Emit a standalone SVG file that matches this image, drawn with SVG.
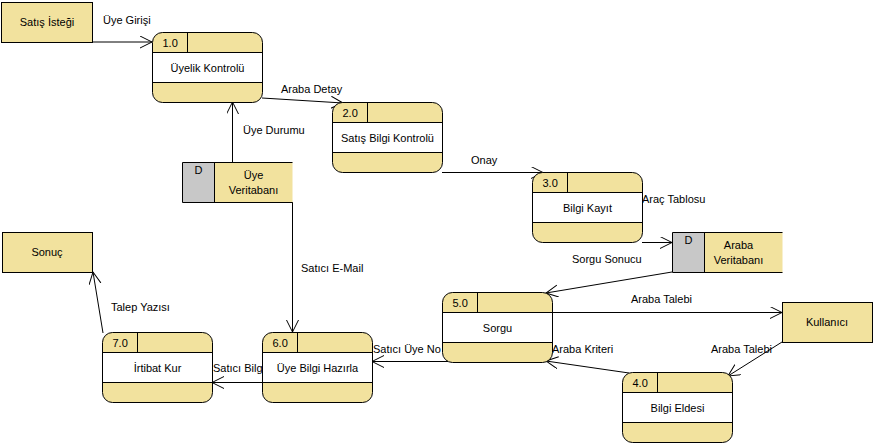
<svg xmlns="http://www.w3.org/2000/svg" width="876" height="446" viewBox="0 0 876 446">
<defs>
<style>
text{font-family:"Liberation Sans",Arial,sans-serif;font-size:11px;fill:#000}
.c{text-anchor:middle}
.box{fill:#f2e29e;stroke:#000;stroke-width:1}
.body{fill:#fff;stroke:#000;stroke-width:1}
.ln{stroke:#000;stroke-width:1;fill:none}
.dgray{fill:#c8c8c8;stroke:none}
.skh{fill:#f2e29e;stroke:none}
.edge{stroke:#000;stroke-width:1;fill:none;marker-end:url(#arr)}
</style>
<marker id="arr" markerUnits="userSpaceOnUse" markerWidth="14" markerHeight="14" refX="12" refY="6" orient="auto">
<path d="M0,0 L12,6 L0,12" fill="none" stroke="#000" stroke-width="1"/>
</marker>
</defs>
<rect width="876" height="446" fill="#fff"/>

<g id="connectors">
<line class="edge" x1="93" y1="42" x2="152" y2="42"/>
<line class="edge" x1="262" y1="98" x2="343" y2="103"/>
<line class="edge" x1="232.5" y1="162" x2="232.5" y2="102"/>
<line class="edge" x1="292.5" y1="202" x2="292.5" y2="332"/>
<line class="edge" x1="442" y1="172.5" x2="543" y2="172.5"/>
<line class="edge" x1="642" y1="242.5" x2="672" y2="242.5"/>
<line class="edge" x1="672" y1="272" x2="546" y2="293"/>
<line class="edge" x1="552" y1="312.5" x2="782" y2="312.5"/>
<line class="edge" x1="782" y1="342" x2="728" y2="376"/>
<line class="edge" x1="629" y1="373" x2="546" y2="361"/>
<line class="edge" x1="448" y1="361.5" x2="372" y2="361.5"/>
<line class="edge" x1="262" y1="382.5" x2="212" y2="382.5"/>
<line class="edge" x1="103" y1="333" x2="93" y2="272"/>
<text x="103" y="24">Üye Girişi</text>
<text x="281" y="93">Araba Detay</text>
<text x="243" y="134">Üye Durumu</text>
<text x="301" y="272">Satıcı E-Mail</text>
<text x="471" y="164">Onay</text>
<text x="642" y="203">Araç Tablosu</text>
<text x="572" y="263">Sorgu Sonucu</text>
<text x="631" y="303">Araba Talebi</text>
<text x="711" y="353">Araba Talebi</text>
<text x="552" y="353">Araba Kriteri</text>
<text x="373" y="353">Satıcı Üye No</text>
<text x="213" y="372">Satıcı Bilgi</text>
<text x="111" y="311">Talep Yazısı</text>
</g>

<g id="satis-istegi">
<rect class="box" x="1.5" y="2.5" width="91" height="40"/>
<text class="c" x="47" y="26">Satış İsteği</text>
</g>

<g id="sonuc">
<rect class="box" x="2.5" y="232.5" width="90" height="40"/>
<text class="c" x="47" y="256">Sonuç</text>
</g>

<g id="kullanici">
<rect class="box" x="782.5" y="302.5" width="90" height="40"/>
<text class="c" x="827" y="326">Kullanıcı</text>
</g>

<g id="p1" transform="translate(152.5,32.5)">
<rect class="box" width="110" height="70" rx="10"/>
<rect class="body" y="20" width="110" height="30"/>
<line class="ln" x1="35" y1="0" x2="35" y2="20"/>
<text x="10" y="14">1.0</text>
<text class="c" x="55" y="39">Üyelik Kontrolü</text>
</g>

<g id="p2" transform="translate(332.5,102.5)">
<rect class="box" width="110" height="70" rx="10"/>
<rect class="body" y="20" width="110" height="30"/>
<line class="ln" x1="35" y1="0" x2="35" y2="20"/>
<text x="10" y="14">2.0</text>
<text class="c" x="55" y="39">Satış Bilgi Kontrolü</text>
</g>

<g id="p3" transform="translate(532.5,172.5)">
<rect class="box" width="110" height="70" rx="10"/>
<rect class="body" y="20" width="110" height="30"/>
<line class="ln" x1="35" y1="0" x2="35" y2="20"/>
<text x="10" y="14">3.0</text>
<text class="c" x="55" y="39">Bilgi Kayıt</text>
</g>

<g id="p4" transform="translate(622.5,372.5)">
<rect class="box" width="110" height="70" rx="10"/>
<rect class="body" y="20" width="110" height="30"/>
<line class="ln" x1="35" y1="0" x2="35" y2="20"/>
<text x="10" y="14">4.0</text>
<text class="c" x="55" y="39">Bilgi Eldesi</text>
</g>

<g id="p5" transform="translate(442.5,292.5)">
<rect class="box" width="110" height="70" rx="10"/>
<rect class="body" y="20" width="110" height="30"/>
<line class="ln" x1="35" y1="0" x2="35" y2="20"/>
<text x="10" y="14">5.0</text>
<text class="c" x="55" y="39">Sorgu</text>
</g>

<g id="p6" transform="translate(262.5,332.5)">
<rect class="box" width="110" height="70" rx="10"/>
<rect class="body" y="20" width="110" height="30"/>
<line class="ln" x1="35" y1="0" x2="35" y2="20"/>
<text x="10" y="14">6.0</text>
<text class="c" x="55" y="39">Üye Bilgi Hazırla</text>
</g>

<g id="p7" transform="translate(102.5,332.5)">
<rect class="box" width="110" height="70" rx="10"/>
<rect class="body" y="20" width="110" height="30"/>
<line class="ln" x1="35" y1="0" x2="35" y2="20"/>
<text x="10" y="14">7.0</text>
<text class="c" x="55" y="39">İrtibat Kur</text>
</g>

<g id="uye-veritabani" transform="translate(182.5,162.5)">
<rect class="dgray" width="32" height="40"/>
<rect class="skh" x="32" width="78" height="40"/>
<path class="ln" d="M110,0 H0 V40 H110 M32,0 V40"/>
<text class="c" x="16" y="11">D</text>
<text class="c" x="71" y="16">Üye</text>
<text class="c" x="71" y="31">Veritabanı</text>
</g>

<g id="araba-veritabani" transform="translate(672.5,232.5)">
<rect class="dgray" width="32" height="40"/>
<rect class="skh" x="32" width="78" height="40"/>
<path class="ln" d="M110,0 H0 V40 H110 M32,0 V40"/>
<text class="c" x="16" y="11">D</text>
<text class="c" x="66" y="16">Araba</text>
<text class="c" x="66" y="31">Veritabanı</text>
</g>
</svg>
